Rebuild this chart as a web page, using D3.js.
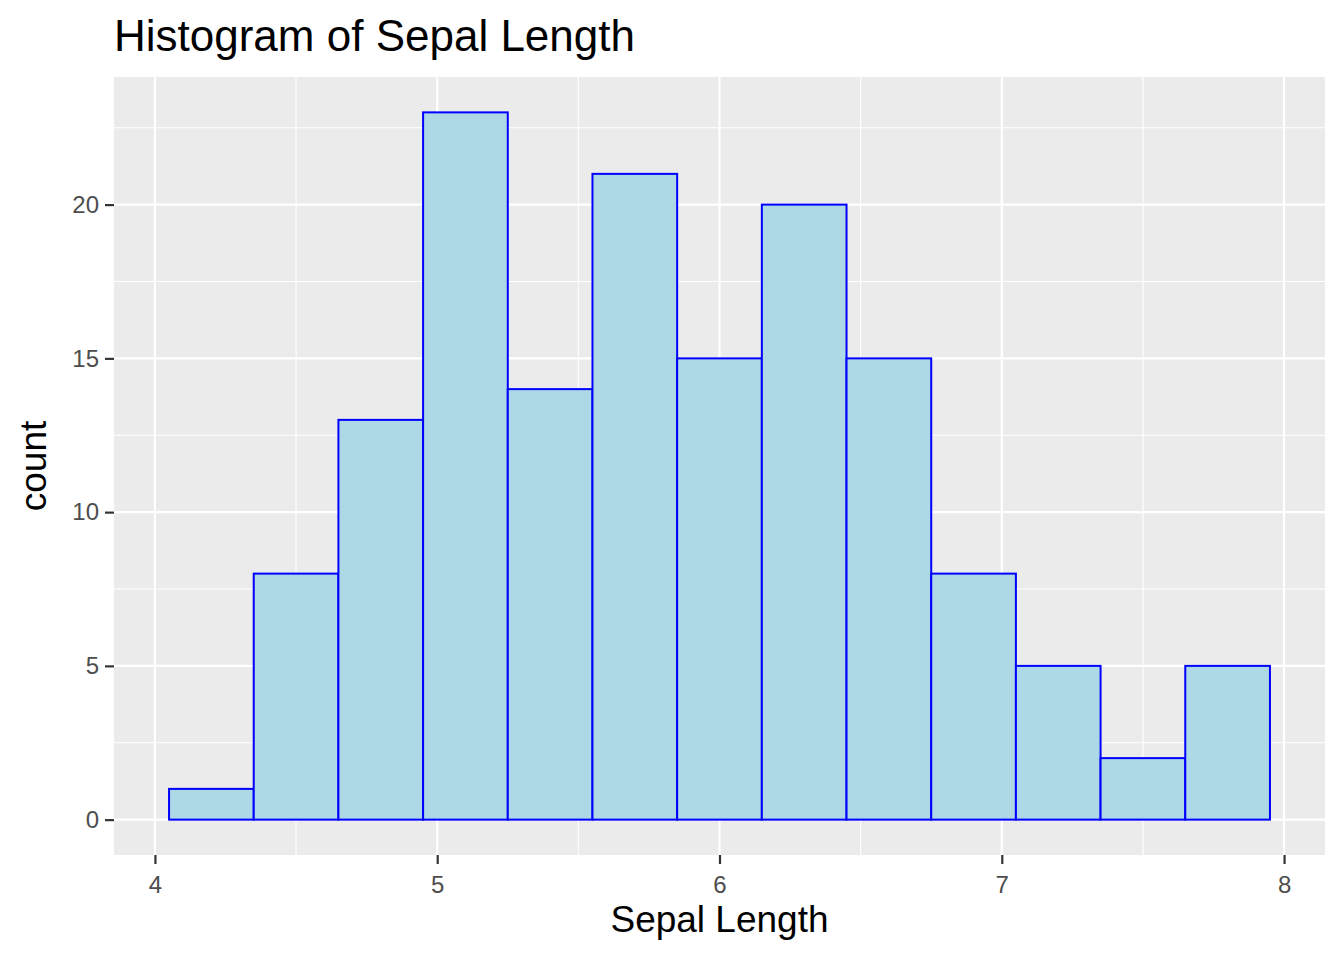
<!DOCTYPE html>
<html><head><meta charset="utf-8">
<script src="https://cdn.jsdelivr.net/npm/d3@7"></script>
<style>body{margin:0;background:#fff}text{font-family:"Liberation Sans",Arial,sans-serif}</style>
</head><body><svg id="c" width="1344" height="960"></svg>
<script>
const binStarts=[4.05,4.35,4.65,4.95,5.25,5.55,5.85,6.15,6.45,6.75,7.05,7.35,7.65];
const binWidth=0.3;
const counts=[1,8,13,23,14,21,15,20,15,8,5,2,5];
const xTicks=[4,5,6,7,8];
const yTicks=[0,5,10,15,20];
const svg=d3.select("#c");
const L=114,R=1325,T=77,B=855;
const x=d3.scaleLinear().domain([3.855,8.145]).range([L,R]);
const y=d3.scaleLinear().domain([-1.15,24.15]).range([B,T]);
svg.append("rect").attr("x",L).attr("y",T).attr("width",R-L).attr("height",B-T).attr("fill","#ebebeb");
const g=svg.append("g");
const xMinor=[4.5,5.5,6.5,7.5], yMinor=[2.5,7.5,12.5,17.5,22.5];
xMinor.forEach(v=>g.append("line").attr("x1",x(v)).attr("x2",x(v)).attr("y1",T).attr("y2",B).attr("stroke","#fff").attr("stroke-width",1.1));
yMinor.forEach(v=>g.append("line").attr("y1",y(v)).attr("y2",y(v)).attr("x1",L).attr("x2",R).attr("stroke","#fff").attr("stroke-width",1.1));
xTicks.forEach(v=>g.append("line").attr("x1",x(v)).attr("x2",x(v)).attr("y1",T).attr("y2",B).attr("stroke","#fff").attr("stroke-width",2.2));
yTicks.forEach(v=>g.append("line").attr("y1",y(v)).attr("y2",y(v)).attr("x1",L).attr("x2",R).attr("stroke","#fff").attr("stroke-width",2.2));
svg.selectAll(".bar").data(counts).enter().append("rect")
 .attr("x",(d,i)=>x(binStarts[i])).attr("width",(d,i)=>x(binStarts[i]+binWidth)-x(binStarts[i]))
 .attr("y",d=>y(d)).attr("height",d=>y(0)-y(d))
 .attr("fill","#add8e6").attr("stroke","#0000ff").attr("stroke-width",2);
const xa=svg.append("g").attr("transform",`translate(0,${B})`).call(d3.axisBottom(x).tickValues(xTicks).tickFormat(d3.format("d")).tickSize(9).tickPadding(6));
const ya=svg.append("g").attr("transform",`translate(${L},0)`).call(d3.axisLeft(y).tickValues(yTicks).tickFormat(d3.format("d")).tickSize(9).tickPadding(6));
[xa,ya].forEach(a=>{a.select(".domain").remove();a.selectAll("line").attr("stroke","#333").attr("stroke-width",2.2);
 a.selectAll("text").attr("fill","#4d4d4d").style("font-size","24px").style("font-family","Liberation Sans, Arial, sans-serif");});
xa.selectAll("text").attr("dy","0.95em");
svg.append("text").attr("x",L).attr("y",51).attr("font-size","44px").attr("fill","#000").text("Histogram of Sepal Length");
svg.append("text").attr("x",(L+R)/2).attr("y",932).attr("text-anchor","middle").attr("font-size","37px").text("Sepal Length");
svg.append("text").attr("transform",`translate(46,${(T+B)/2}) rotate(-90)`).attr("text-anchor","middle").attr("font-size","37px").text("count");
</script></body></html>
